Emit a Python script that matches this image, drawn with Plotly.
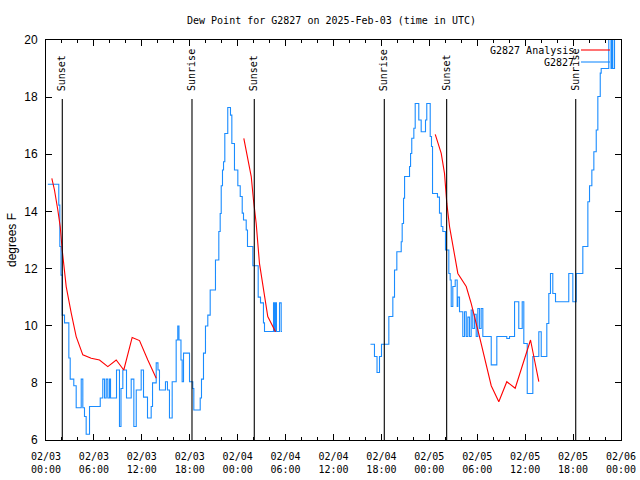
import pandas as pd
import plotly.graph_objects as go

START = pd.Timestamp("2025-02-03 00:00")

# Observed dew point (hours since 02/03 00:00 UTC, degrees F), step series, None = gap
obs_hours = [0.23, 1.6, 1.73, 1.88, 2.03, 2.32, 2.86, 3.03, 3.48, 3.78, 4.41, 4.61, 4.82, 5.03, 5.45,
             6.79, 7.11, 7.33, 7.54, 7.74, 7.95, 8.08, 8.83, 9.2, 9.39, 9.62, 10.08, 10.67, 11.0, 11.3,
             11.92, 12.21, 12.71, 13.17, 13.34, 13.8, 14.02, 14.21, 14.96, 15.21, 15.46, 15.8, 16.3,
             16.5, 16.65, 16.9, 17.05, 17.22, 17.97, 18.38, 18.51, 19.31, 19.47, 19.72, 19.97, 20.26,
             20.56, 21.22, 21.64, 21.81, 21.94, 22.1, 22.23, 22.39, 22.76, 23.1, 23.27, 23.6, 24.02,
             24.32, 24.57, 24.73, 25.07, 25.23, 25.9, 26.57, 26.86, 27.23, 27.36, 28.49, 28.61, 28.74,
             28.86, 29.24, 29.45, 29.55,
             35.0,
             40.63, 41.13, 41.45, 41.76, 42.01, 42.93, 43.43, 43.64, 43.93, 44.48, 44.6, 44.77, 44.9,
             45.52, 45.65, 45.8, 46.06, 46.23, 46.68, 46.98, 47.52, 47.68, 48.11, 48.27, 48.4, 49.02,
             49.27, 49.49, 49.69, 50.02, 50.44, 50.61, 50.74, 50.94, 51.24, 51.49, 51.57, 51.78, 52.19,
             52.41, 52.62, 52.82, 53.03, 53.24, 53.44, 53.66, 53.87, 54.07, 54.28, 54.49, 54.7, 55.75,
             56.45, 57.7, 58.04, 58.67, 59.2, 59.63, 59.83, 60.26, 60.96, 61.71, 62.01, 62.71, 62.96,
             63.17, 63.46, 63.8, 65.46, 65.97, 66.39, 67.22, 67.85, 68.06, 68.35, 68.6, 68.9, 69.1,
             69.4, 69.52, 70.47, 70.75, 70.87, 70.97, 71.19, 72.0]
obs_values = [14.95, 14.22, 12.77, 11.77, 10.37, 10.1, 8.87, 8.13, 7.9, 7.13, 8.13, 7.13, 6.82, 6.2, 7.17,
              7.47, 8.13, 7.47, 8.13, 7.47, 8.13, 7.47, 8.45, 6.47, 7.8, 8.45, 7.47, 8.13, 6.47, 7.75,
              8.45, 7.5, 6.77, 7.17, 8.0, 8.7, 8.45, 7.75, 8.04, 7.75, 6.77, 8.04, 9.5,
              9.99, 9.5, 8.8, 8.04, 9.04, 8.04, 7.8, 7.05, 7.47, 8.13, 9.04, 9.99, 10.37,
              11.25, 12.3, 13.3, 13.93, 14.9, 15.45, 15.74, 16.73, 17.64, 17.37, 16.38, 15.45, 14.9,
              14.52, 13.94, 13.7, 13.35, 12.77, 12.1, 11.0, 10.8, 10.1, 9.8, 10.8, 9.8, 10.8,
              9.8, 10.8, 9.8, 9.8,
              None,
              9.35, 8.92, 8.36, 8.92, 9.35, 10.32, 11.0, 11.95, 12.59, 12.94, 13.58, 14.46, 15.22,
              15.57, 16.03, 16.56, 16.91, 17.78, 17.2, 16.79, 17.2, 17.78, 16.62, 16.27, 14.63, 14.5,
              13.94, 13.47, 13.3, 12.65, 11.83, 11.6, 10.67, 11.37, 11.6, 10.67, 11.0, 10.49, 9.62,
              10.49, 9.62, 10.3, 9.62, 10.55, 9.9, 10.4, 9.62, 10.6, 9.9, 10.6, 9.62, 8.63,
              9.62, 9.55, 9.62, 10.84, 9.9, 10.84, 9.38, 7.63, 8.92, 9.79, 8.92, 10.08, 11.13,
              11.83, 11.13, 10.84, 11.83, 10.84, 11.83, 12.77, 14.34, 14.9, 15.45, 16.09, 16.85, 18.02,
              18.84, 19.0, 20.5, 19.0, 20.5, 19.0, 20.5, 20.5]

# Analysis dew point (hours, degrees F), None = gap
ana_hours = [0.73, 1.06, 1.48, 1.78, 2.03, 2.53, 3.16, 3.78, 4.61, 5.66, 6.7, 7.74, 8.79, 9.74, 10.79,
             11.71, 12.75, 13.8,
             19.0,
             24.77, 25.27, 25.7, 25.98, 26.32, 26.73, 27.15, 27.77, 28.74,
             38.0,
             48.74, 49.49, 49.9, 50.19, 50.53, 50.94, 51.57, 52.62, 53.24, 54.28, 55.12, 55.75, 56.7,
             57.7, 58.75, 59.7, 60.67, 61.17, 61.71]
ana_values = [15.16, 14.75, 14.05, 13.47, 12.65, 11.37, 10.44, 9.62, 8.98, 8.86, 8.8, 8.57, 8.8, 8.45, 9.59,
              9.48, 8.8, 8.16,
              None,
              16.56, 15.8, 15.22, 14.4, 13.58, 12.18, 11.48, 10.32, 9.79,
              None,
              16.7, 16.03, 15.33, 14.28, 13.47, 12.77, 11.83, 11.37, 10.78, 9.62, 8.68, 7.9, 7.34,
              8.04, 7.81, 8.68, 9.5, 8.8, 8.04]

# Sun events (hours since start)
sun_hours = [2.04, 18.28, 26.08, 42.36, 50.17, 66.33]
sun_labels = ["Sunset", "Sunrise", "Sunset", "Sunrise", "Sunset", "Sunrise"]

y_ticks = [6, 8, 10, 12, 14, 16, 18, 20]

RED = "#ff0000"
BLUE = "#1a8cff"
MONO = "DejaVu Sans Mono"
SANS = "Liberation Sans"


def to_time(hours):
    return [START + pd.Timedelta(hours=h) for h in hours]


fig = go.Figure()

fig.add_trace(go.Scatter(x=to_time(obs_hours), y=obs_values, mode="lines",
                         line=dict(color=BLUE, width=1.1, shape="hv"),
                         connectgaps=False, name="G2827", showlegend=False))
fig.add_trace(go.Scatter(x=to_time(ana_hours), y=ana_values, mode="lines",
                         line=dict(color=RED, width=1.1),
                         connectgaps=False, name="G2827 Analysis", showlegend=False))

line_top = (440 - 99) / 400.0
label_bottom = (440 - 93) / 400.0
for h, lab in zip(sun_hours, sun_labels):
    t = START + pd.Timedelta(hours=h)
    fig.add_shape(type="line", xref="x", yref="paper", x0=t, x1=t, y0=0, y1=line_top,
                  line=dict(color="black", width=1.1))
    fig.add_annotation(x=t, y=label_bottom, xref="x", yref="paper", text=lab, textangle=-90,
                       showarrow=False, xanchor="center", yanchor="bottom",
                       font=dict(family=MONO, size=10, color="black"))

# gnuplot-style legend (text left of sample line)
legend_items = [("G2827 Analysis", RED), ("G2827", BLUE)]
for i, (name, col) in enumerate(legend_items):
    ypx = 50 + 12 * i
    yp = (440 - ypx) / 400.0
    fig.add_annotation(x=(576 - 46) / 575.0, y=yp, xref="paper", yref="paper", text=name,
                       showarrow=False, xanchor="right", yanchor="middle",
                       font=dict(family=MONO, size=10, color="black"))
    fig.add_shape(type="line", xref="paper", yref="paper",
                  x0=(581 - 46) / 575.0, x1=(610 - 46) / 575.0, y0=yp, y1=yp,
                  line=dict(color=col, width=1.1))

fig.update_layout(
    width=640, height=480,
    margin=dict(l=46, r=19, t=40, b=40, autoexpand=False),
    paper_bgcolor="white", plot_bgcolor="white",
    title=dict(text="Dew Point for G2827 on 2025-Feb-03 (time in UTC)", x=(331.5) / 640.0,
               xanchor="center", y=1 - 20 / 480.0, yanchor="middle",
               font=dict(family=MONO, size=10, color="black")),
    showlegend=False,
)

fig.update_xaxes(
    range=[START, START + pd.Timedelta(hours=72)],
    tickmode="linear", tick0=START, dtick=6 * 3600 * 1000,
    tickformat="%m/%d<br>%H:%M",
    ticks="inside", ticklen=6, tickcolor="black", tickwidth=1,
    minor=dict(dtick=2 * 3600 * 1000, ticks="inside", ticklen=3, tickcolor="black", tickwidth=1),
    showline=True, linecolor="black", linewidth=1, mirror="ticks",
    showgrid=False, zeroline=False, automargin=False, ticklabelstandoff=7,
    tickfont=dict(family=MONO, size=10, color="black"),
)
fig.update_yaxes(
    range=[6, 20], tickvals=y_ticks, ticktext=[str(v) for v in y_ticks],
    ticks="inside", ticklen=6, tickcolor="black", tickwidth=1,
    showline=True, linecolor="black", linewidth=1, mirror="ticks",
    showgrid=False, zeroline=False, automargin=False, ticklabelstandoff=5,
    tickfont=dict(family=SANS, size=12, color="black"),
    title=dict(text="degrees F", font=dict(family=SANS, size=12, color="black"), standoff=5),
)

fig.write_html("out.html", config={"displayModeBar": False},
               post_script="document.body.style.margin='0';document.body.style.padding='0';")
